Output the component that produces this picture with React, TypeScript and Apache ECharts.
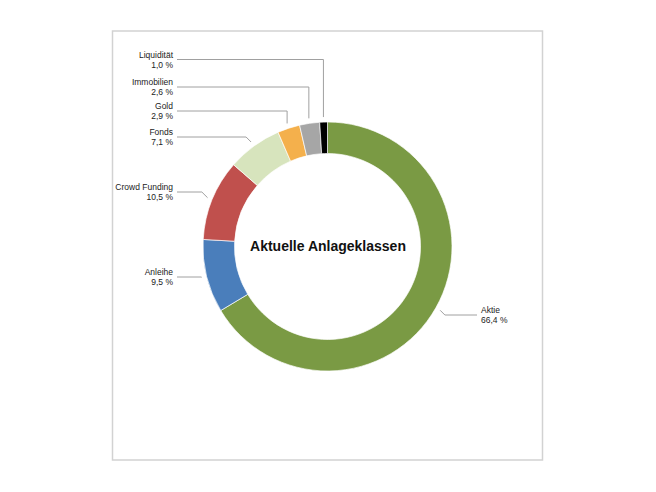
import { useEffect, useRef } from 'react';
import * as echarts from 'echarts';

// Anteile in Prozent, im Uhrzeigersinn ab 12 Uhr
const categories = ['Aktie', 'Anleihe', 'Crowd Funding', 'Fonds', 'Gold', 'Immobilien', 'Liquidität'];
const shares = [66.4, 9.5, 10.5, 7.1, 2.9, 2.6, 1.0];
const colors = ['#7A9A44', '#4A7EBB', '#C0504D', '#D7E4BD', '#F4B04C', '#A6A6A6', '#000000'];

// Layout: Höhe der Beschriftungen (Mitte des Textblocks), Pixel
const labelY = [315, 277, 192, 137, 111, 87, 59.5];

const CX = 327.5;
const CY = 246.5;
const R_OUT = 124.5;
const R_IN = 93;
const LEFT_TEXT_X = 173;
const RIGHT_TEXT_X = 481;

const fmt = (v: number) => v.toFixed(1).replace('.', ',') + ' %';

const App: React.FC = () => {
  const chartRef = useRef<HTMLDivElement>(null);

  useEffect(() => {
    if (!chartRef.current) return;
    const chart = echarts.init(chartRef.current, undefined, { renderer: 'svg' });

    const option = {
      animation: false,
      backgroundColor: '#ffffff',
      title: {
        text: 'Aktuelle Anlageklassen',
        left: 'center',
        top: 'middle',
        textStyle: {
          fontFamily: 'Liberation Sans',
          fontSize: 14,
          fontWeight: 'bold',
          color: '#111111',
        },
      },
      graphic: [
        {
          type: 'rect',
          shape: { x: 112.5, y: 31, width: 430, height: 429 },
          style: { fill: 'none', stroke: '#d2d2d2', lineWidth: 1.5 },
          silent: true,
        },
      ],
      series: [
        {
          type: 'pie',
          center: [CX, CY],
          radius: [R_IN, R_OUT],
          startAngle: 90,
          clockwise: true,
          avoidLabelOverlap: false,
          itemStyle: { borderColor: 'rgba(255,255,255,0.85)', borderWidth: 0.8 },
          data: categories.map((name, i) => ({
            name,
            value: shares[i],
            itemStyle: { color: colors[i] },
          })),
          label: {
            show: true,
            formatter: (p: any) => `${p.name}\n${fmt(p.value)}`,
            fontFamily: 'Liberation Sans',
            fontSize: 8.5,
            lineHeight: 10,
            color: '#222222',
          },
          labelLine: {
            show: true,
            length: 10,
            length2: 10,
            lineStyle: { color: '#a0a0a0', width: 1 },
          },
          labelLayout: (params: any) => {
            const i = params.dataIndex;
            const p0 = params.labelLinePoints ? params.labelLinePoints[0] : [CX, CY - R_OUT];
            const dx = p0[0] - CX;
            const dy = p0[1] - CY;
            const len = Math.sqrt(dx * dx + dy * dy) || 1;
            // Linie beginnt etwas ausserhalb des Rings
            const ax = p0[0] + (dx / len) * 5;
            const ay = p0[1] + (dy / len) * 5;
            const y = labelY[i];
            const isRight = ax > CX;
            const side = isRight ? 1 : -1;
            const diff = Math.abs(y - ay);
            const ex = diff <= 7 ? ax + side * diff : ax;
            const lineEnd = isRight ? RIGHT_TEXT_X - 4 : LEFT_TEXT_X + 4;
            return {
              x: isRight ? RIGHT_TEXT_X : LEFT_TEXT_X,
              y,
              align: isRight ? 'left' : 'right',
              verticalAlign: 'middle',
              labelLinePoints: [
                [ax, ay],
                [ex, y],
                [lineEnd, y],
              ],
            };
          },
        },
      ],
    };

    chart.setOption(option as any);
    return () => {
      chart.dispose();
    };
  }, []);

  return (
    <div
      ref={chartRef}
      style={{ position: 'absolute', left: 0, top: 0, width: 656, height: 492 }}
    />
  );
};

export default App;
